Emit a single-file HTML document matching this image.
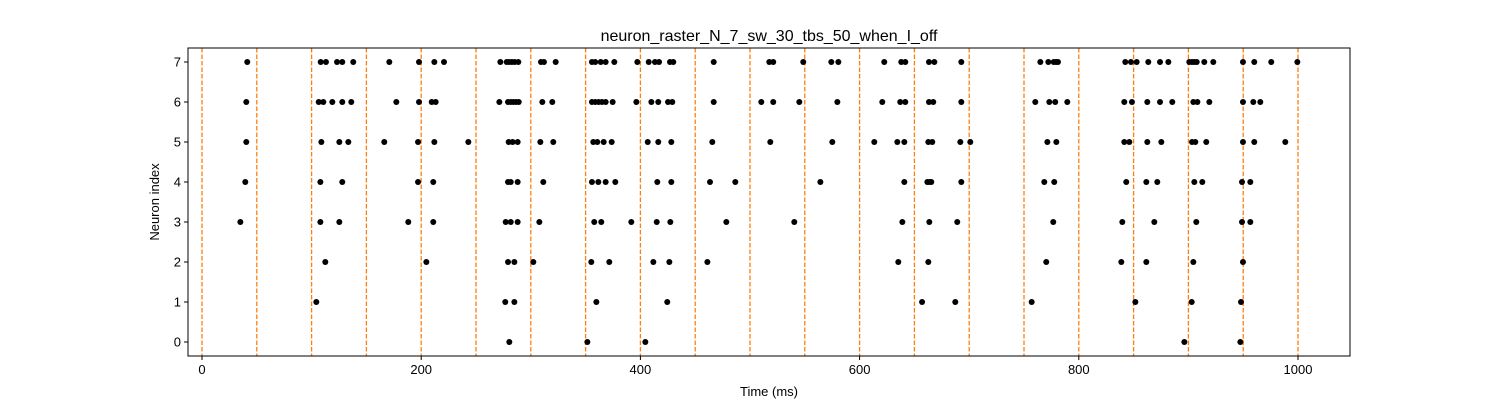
<!DOCTYPE html>
<html><head><meta charset="utf-8"><style>
html,body{margin:0;padding:0;background:#fff;}
svg{display:block;font-family:"Liberation Sans","DejaVu Sans",sans-serif;}
</style></head><body>
<svg id="chart" width="1500" height="400">
<rect width="1500" height="400" fill="#fff"/>
<text x="769" y="41" text-anchor="middle" font-size="16">neuron_raster_N_7_sw_30_tbs_50_when_I_off</text>
<g id="vlines"></g>
<g id="dots"></g>
<g id="axes"></g>
<text x="769" y="396" text-anchor="middle" font-size="13">Time (ms)</text>
<text x="159" y="202" text-anchor="middle" font-size="13" transform="rotate(-90 159 202)">Neuron index</text>
</svg>
<script>
const neuronIds = [0,1,2,3,4,5,6,7];
const spikes0 = [280.4,351.6,404.5,896.3,947.4];
const spikes1 = [104.3,276.7,285,359.8,424.5,657,687.3,757,851.6,903,948];
const spikes2 = [112.5,204.7,279.2,285,302.3,355.2,371.6,411.8,426.4,461.1,635.3,662.7,770.3,838.8,861.6,904.5,949.8];
const spikes3 = [35,108,125.3,188.2,211,277.1,281.7,288,307.8,357.9,364.3,391.7,414.9,427.3,478.4,540.4,639,663.6,689.1,776.7,839.7,868.9,907.2,948.9,956.5];
const spikes4 = [39.5,108,128,197.1,211,279.2,281.7,288,311.4,355.8,361.6,368.3,377.1,415.4,428.2,463.5,486.6,564.2,640.8,661.8,663.6,665.4,692.8,768.5,777.6,843.3,861.6,871.6,905.4,912.7,948.9,956.5];
const spikes5 = [40.4,108.9,125.3,133.5,166.3,197.1,212,243,279.8,283.4,288,308.7,320.5,357,360.7,366.5,373.8,406.7,416.3,428.2,465.6,518.5,575.1,613.4,634.4,640.8,662.7,666.3,691.9,701,771.3,779.5,841.5,846.1,862.5,875.3,903.3,906.3,916.3,949.8,960.1,988.4];
const spikes6 = [40.4,106.5,110.7,118.9,128,136.2,177.3,198,209.6,213.2,271.3,279.2,281.7,284,286.5,289,310.5,319.6,355.8,358.8,361.9,364.9,368.3,374.7,396.3,410,416.3,425.2,429.1,466.9,510.3,521.2,545,579.7,620.7,637.1,641.7,663.3,667.2,692.8,760.3,773.1,778.5,789.5,841.5,848.5,862.5,874.1,885.3,904.5,908.2,919.1,949.8,959.2,965.6];
const spikes7 = [41.3,108.3,113.1,123.2,128,138,170.9,198,212,220.8,272.2,278,280.3,282.8,285.3,288.6,309.3,312,322.7,355.8,358.8,363.8,368.3,376.2,397.2,407.6,413.3,417,427,430,466.9,517.6,521.2,548.6,574.2,580.6,622.5,638,641.7,663.3,668.2,692.8,764.9,772.2,777.1,779.2,781,842.4,847.6,852.8,863.4,874.1,881.7,900.8,903.3,905.4,907.6,914.5,922.7,949.8,960.1,975.6,999.4];
const stimTimes = [0,50,100,150,200,250,300,350,400,450,500,550,600,650,700,750,800,850,900,950,1000];
const xTicks = [0,200,400,600,800,1000];
const yTicks = [0,1,2,3,4,5,6,7];

const allSpikes = [spikes0,spikes1,spikes2,spikes3,spikes4,spikes5,spikes6,spikes7];
const L=188,R=1350,T=48,B=356;
const x = t => 202 + t*1.096;
const y = n => 342 - n*40;
const NS="http://www.w3.org/2000/svg";
function mk(tag, attrs){const e=document.createElementNS(NS,tag);for(const k in attrs)e.setAttribute(k,attrs[k]);return e;}

const vl=document.getElementById('vlines');
stimTimes.forEach(t=>{
  const l=mk('line',{x1:x(t),x2:x(t),y1:T,y2:B,stroke:'#ff7f0e','stroke-width':1.3,'stroke-dasharray':'4.5,2'});
  
  
  vl.appendChild(l);
});

const dg=document.getElementById('dots');
neuronIds.forEach(n=>{
  allSpikes[n].forEach(t=>{
    const c=mk('circle',{cx:x(t),cy:y(n),r:3,fill:'#000'});
    
    
    dg.appendChild(c);
  });
});

const ax=document.getElementById('axes');
const frame=mk('rect',{x:L,y:T,width:R-L,height:B-T,fill:'none',stroke:'#000','stroke-width':1});


ax.appendChild(frame);
xTicks.forEach(v=>{
  ax.appendChild(mk('line',{x1:x(v),x2:x(v),y1:B,y2:B+4,stroke:'#000'}));
  const t=mk('text',{x:x(v),y:B+18,'text-anchor':'middle','font-size':13});
  t.textContent=v;
  
  
  ax.appendChild(t);
});
yTicks.forEach(v=>{
  ax.appendChild(mk('line',{x1:L-4,x2:L,y1:y(v),y2:y(v),stroke:'#000'}));
  const t=mk('text',{x:L-7,y:y(v)+4.5,'text-anchor':'end','font-size':13});
  t.textContent=v;
  
  
  ax.appendChild(t);
});
</script>
</body></html>
